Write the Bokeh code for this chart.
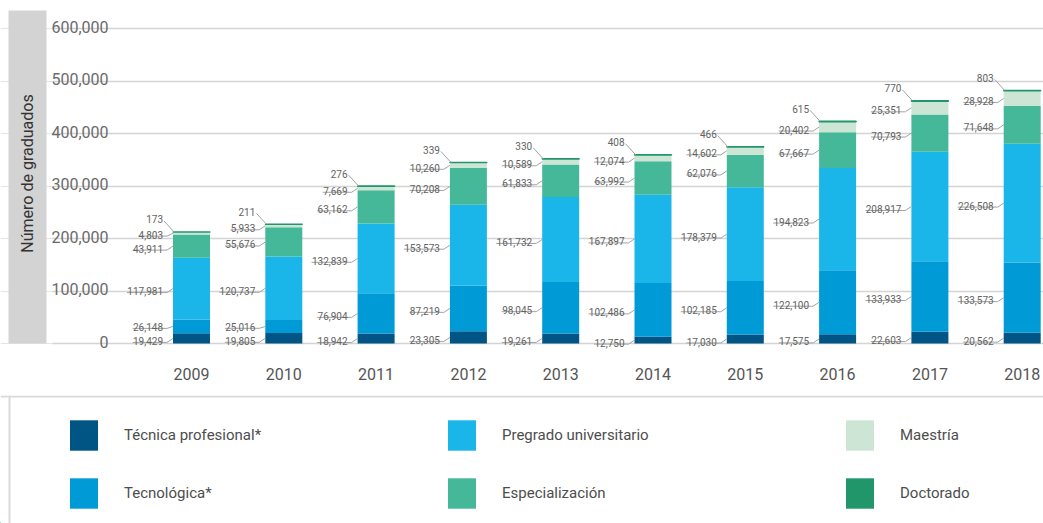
import math
import numpy as np
from bokeh.plotting import figure
from bokeh.models import Range1d, FixedTicker, Grid, Legend, LegendItem, Span, ColumnDataSource
from bokeh.layouts import column
from bokeh.core.properties import value
from bokeh.embed import file_html
from bokeh.resources import INLINE

# ---------------- data ----------------
years = ["2009", "2010", "2011", "2012", "2013", "2014", "2015", "2016", "2017", "2018"]
tecnica = [19429, 19805, 18942, 23305, 19261, 12750, 17030, 17575, 22603, 20562]
tecnologica = [26148, 25016, 76904, 87219, 98045, 102486, 102185, 122100, 133933, 133573]
pregrado = [117981, 120737, 132839, 153573, 161732, 167897, 178379, 194823, 208917, 226508]
especializacion = [43911, 55676, 63162, 70208, 61833, 63992, 62076, 67667, 70793, 71648]
maestria = [4803, 5933, 7669, 10260, 10589, 12074, 14602, 20402, 25351, 28928]
doctorado = [173, 211, 276, 339, 330, 408, 466, 615, 770, 803]
series_names = ["Técnica profesional*", "Tecnológica*", "Pregrado universitario",
                "Especialización", "Maestría", "Doctorado"]
series_colors = ["#005584", "#009bd6", "#1ab5e9", "#44b899", "#cde5d5", "#22966b"]
y_ticks = [0, 100000, 200000, 300000, 400000, 500000, 600000]
y_tick_labels = ["0", "100,000", "200,000", "300,000", "400,000", "500,000", "600,000"]
y_title = "Número de graduados"

FONT = value("Roboto")

# ---------------- geometry ----------------
TOTAL_W, TOTAL_H = 1043, 523
MAIN_W, MAIN_H = TOTAL_W, 395
TOP_B, BOT_B = 0, 35
K = 315 / 600000                     # px per unit (600k -> 315 px)
ZERO_PY = 343                        # page y of value 0
y_end = (ZERO_PY - TOP_B) / K
y_start = y_end - (MAIN_H - TOP_B - BOT_B) / K
XPX = 92.3                           # px per category
x_start = -191 / XPX                 # first category centre at page x 191
x_end = x_start + MAIN_W / XPX


def dx(px):
    return px / XPX


def dy(px):
    return px / K


def X(px):
    return x_start + px / XPX


def Y(py):
    return y_end - (py - TOP_B) / K


series = [tecnica, tecnologica, pregrado, especializacion, maestria, doctorado]
n = len(years)
xs_idx = list(range(n))
keys = ["s%d" % k for k in range(len(series))]
src = ColumnDataSource(dict(x=xs_idx, **{keys[k]: series[k] for k in range(len(series))}))

p = figure(width=MAIN_W, height=MAIN_H, x_range=Range1d(x_start, x_end),
           y_range=Range1d(y_start, y_end), y_axis_location=None,
           toolbar_location=None, output_backend="svg",
           min_border_left=0, min_border_right=0, min_border_top=TOP_B, min_border_bottom=BOT_B)
p.outline_line_color = None
p.xgrid.visible = False
p.add_layout(Grid(dimension=1, ticker=FixedTicker(ticks=y_ticks), cross_bounds=(X(52), x_end),
                  grid_line_color="#d4d4d4", grid_line_width=1.5))

# y-axis title box
p.quad(left=[X(8)], right=[X(46)], top=[Y(10)], bottom=[Y(343)],
       fill_color="#d3d3d3", line_color=None)
p.text(x=[X(27)], y=[Y(173)], text=[y_title], angle=math.pi / 2, text_align="center",
       text_baseline="middle", text_font=FONT, text_font_size="16px", text_color="#333333")

BW = dx(37)
edge_colors = [None] * (len(series) - 1) + [series_colors[-1]]
p.vbar_stack(keys, x="x", width=BW, fill_color=series_colors, line_color=edge_colors,
             line_width=1.5, source=src)

# x axis
ax = p.xaxis[0]
ax.ticker = FixedTicker(ticks=xs_idx)
ax.major_label_overrides = {i: years[i] for i in xs_idx}
ax.axis_line_color = None
ax.major_tick_line_color = None
ax.minor_tick_line_color = None
ax.major_tick_out = 0
ax.major_label_standoff = 7
ax.major_label_text_font = "Roboto"
ax.major_label_text_font_size = "16px"
ax.major_label_text_color = "#555555"

# y tick labels (above gridlines)
p.text(x=[X(108)] * len(y_ticks), y=y_ticks, text=y_tick_labels,
       text_align="right", text_baseline="alphabetic", y_offset=-2,
       text_font=FONT, text_font_size="16px", text_color="#6b6b6b")

# data labels with leader lines
arr = np.array(series, dtype=float)
bottoms = np.vstack([np.zeros(n), np.cumsum(arr, axis=0)[:-1]])
totals = arr.sum(axis=0)
lab_x, lab_y, lab_t = [], [], []
line_xs, line_ys = [], []
GAP = dy(14)
for i in range(n):
    bl = xs_idx[i] - BW / 2
    prev = None
    for k in range(len(series)):
        v = series[k][i]
        mid = bottoms[k, i] + v / 2
        if k == len(series) - 1:
            ly = totals[i] + dy(11)
        else:
            ly = mid - dy(4)
        if prev is not None:
            ly = max(ly, prev + GAP)
        prev = ly
        t = f"{v:,}"
        tx = bl - dx(10)
        lab_x.append(tx)
        lab_y.append(ly)
        lab_t.append(t)
        w = sum(5.6 if c.isdigit() else 2.4 for c in t)
        if k == len(series) - 1:
            line_xs.append([bl - dx(9), bl + dx(1)])
            line_ys.append([ly, totals[i]])
        else:
            line_xs.append([tx - dx(w), bl - dx(6), bl])
            line_ys.append([ly, ly, mid])

p.multi_line(xs=line_xs, ys=line_ys, line_color="#a3a3a3", line_width=1)
p.text(x=lab_x, y=lab_y, text=lab_t, text_align="right", text_baseline="alphabetic",
       y_offset=-1.5, text_font=FONT, text_font_size="10px", text_color="#636363")

# ---------------- legend box ----------------
LW, LH = TOTAL_W, TOTAL_H - MAIN_H
lf = figure(width=LW, height=LH, x_range=Range1d(0, LW), y_range=Range1d(0, LH),
            x_axis_location=None, y_axis_location=None, toolbar_location=None,
            output_backend="svg", min_border=0)
lf.outline_line_color = None
lf.xgrid.visible = False
lf.ygrid.visible = False
lf.add_layout(Span(location=LH - 1, dimension="width", line_color="#dadada", line_width=2))
lf.add_layout(Span(location=9, dimension="height", line_color="#dadada", line_width=2))
rs = [lf.vbar(x=[-1000], top=[1], width=1, fill_color=c, line_color=None) for c in series_colors]
for col_i, (a, b) in enumerate([(0, 1), (2, 3), (4, 5)]):
    leg = Legend(items=[LegendItem(label=series_names[a], renderers=[rs[a]]),
                        LegendItem(label=series_names[b], renderers=[rs[b]])],
                 location=([66, 444, 842][col_i], 11), orientation="vertical",
                 glyph_width=35, glyph_height=38, label_standoff=23, spacing=20,
                 padding=0, margin=0, border_line_color=None, background_fill_alpha=0,
                 label_text_font="Roboto", label_text_font_size="15px",
                 label_text_color="#4d4d4d")
    lf.add_layout(leg)

layout = column(p, lf)
open("out.html", "w").write(file_html(layout, INLINE))
